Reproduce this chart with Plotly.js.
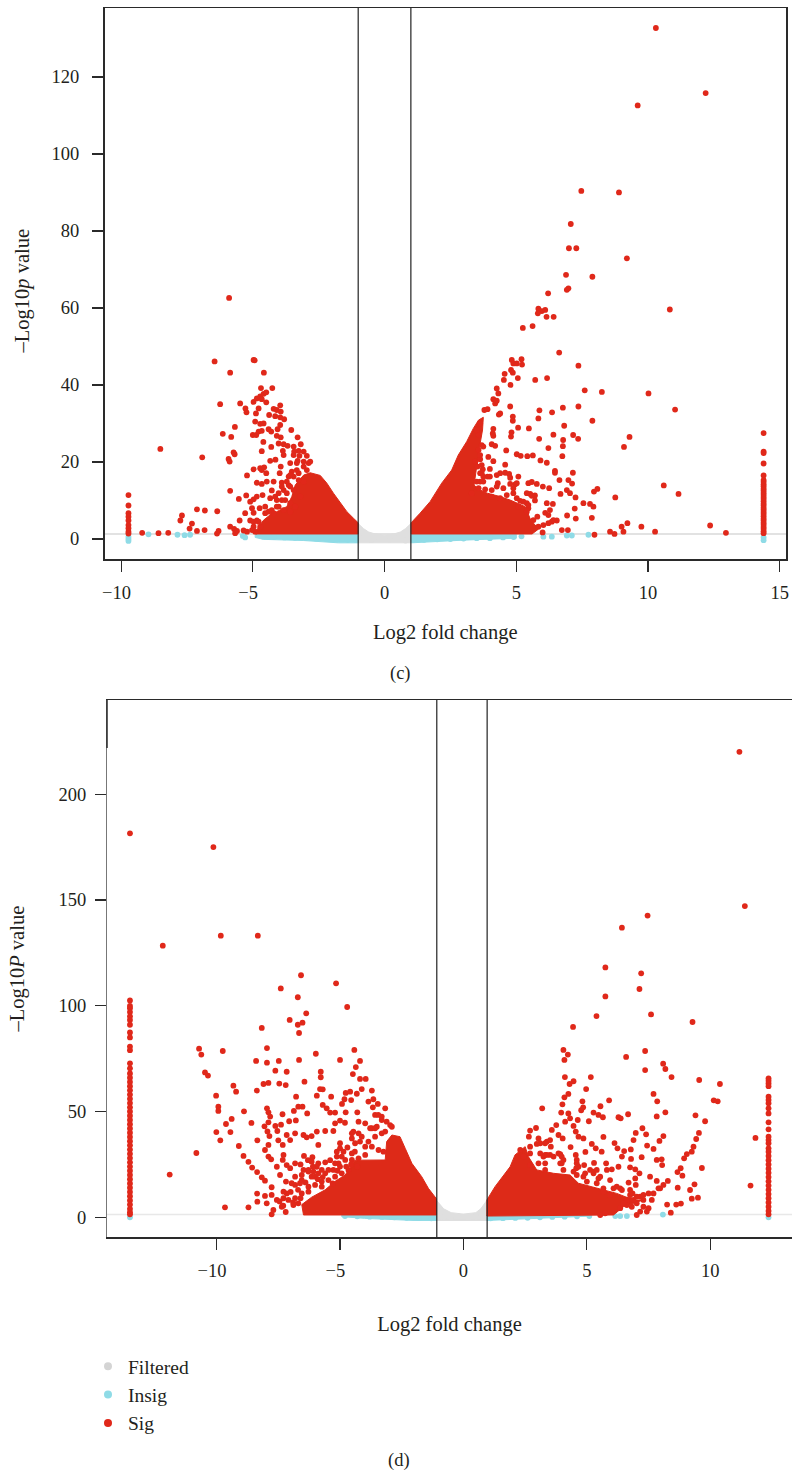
<!DOCTYPE html>
<html><head><meta charset="utf-8">
<script src="https://cdn.plot.ly/plotly-3.0.1.min.js"></script>
<style>html,body{margin:0;padding:0;background:#fff}#chart{width:792px;height:1471px}</style>
</head><body><div id="chart"></div>
<script>
// ---------- Panel (c): values [log2FC, -log10 p] ----------
const cSigLeft=[[-9.2,1.6],[-8.58,1.5],[-8.21,1.6],[-8.51,23.4],[-7.75,4.8],[-7.69,6.1],[-7.4,2.7],[-7.31,4],[-7.12,2.1],[-7.12,7.7],[-6.92,21.2],[-6.83,2.3],[-6.82,7.4],[-6.45,46.1],[-6.36,1.4],[-6.35,7.2],[-6.3,2.1],[-6.24,35],[-6.14,27.3],[-5.92,20.8],[-5.9,62.6],[-5.88,20.1],[-5.86,43.2],[-5.86,12.5],[-5.86,3.2],[-5.82,26.5],[-5.73,22.5],[-5.71,2.6],[-5.69,22],[-5.68,29.1],[-5.67,1.5],[-5.6,2.1],[-5.53,10.4],[-5.5,4.8],[-5.48,35.2],[-5.35,2.2],[-5.29,6.7],[-5.28,33.9],[-5.25,11.3],[-5.24,32.9],[-5.22,16.5],[-5.22,1.9],[-5.1,9.7],[-5.1,4.8],[-5.03,8],[-5,27],[-4.97,46.5],[-4.97,35.6],[-4.97,18.1],[-4.97,10.3],[-4.97,6.8],[-4.97,3.2],[-4.93,46.4],[-4.91,30.5],[-4.91,1.9],[-4.88,32.6],[-4.87,27],[-4.85,36.5],[-4.85,14.6],[-4.85,11],[-4.78,33.9],[-4.78,27.9],[-4.78,4.5],[-4.74,8],[-4.72,37],[-4.72,29.9],[-4.72,18.4],[-4.69,39.2],[-4.66,36.3],[-4.66,28.1],[-4.66,22.8],[-4.66,17.9],[-4.66,14.3],[-4.63,11.4],[-4.6,25.2],[-4.59,37.7],[-4.59,30],[-4.58,43.2],[-4.57,18.6],[-4.53,6.7],[-4.49,38.1],[-4.49,35.5],[-4.49,17.1],[-4.47,14.9],[-4.4,28.5],[-4.38,32.2],[-4.34,20.3],[-4.3,27.9],[-4.3,23.9],[-4.28,12.6],[-4.28,7.5],[-4.26,39.2],[-4.21,33.8],[-4.21,14.9],[-4.15,31.9],[-4.14,20.6],[-4.09,33.5],[-4.09,26.8],[-4.09,10.1],[-4.02,24.8],[-4.02,11.9],[-4.02,8.4],[-3.98,17.1],[-3.96,34.7],[-3.96,31.6],[-3.96,29.6],[-3.94,33.1],[-3.94,26.4],[-3.94,18.8],[-3.9,14.6],[-3.86,22.9],[-3.83,24.6],[-3.83,21.8],[-3.83,12.7],[-3.81,31.1],[-4.06,28.5],[-3.68,24.2],[-3.64,14],[-3.64,16.2],[-3.54,28.3],[-3.52,17.5],[-3.45,24],[-3.43,22.7],[-3.33,17.9],[-3.3,26.4],[-3.3,20.3],[-3.26,22.9],[-3.23,21.6],[-3.18,24.6],[-3.07,22.7],[-3.07,18.8],[-2.95,21.6],[-2.95,17.9],[-2.82,20.1]];
const cSigLeftDense=[[-3.58,13.6],[-3.71,11.9],[-3.77,10.1],[-3.58,9.3],[-3.45,12.7],[-3.26,15.3],[-3.07,14.9],[-3.45,16.2],[-3.9,10.1],[-4.09,8.4],[-4.21,6.7],[-4.4,7.1],[-4.53,8.4],[-3.83,7.5],[-3.58,7.1],[-3.39,8.4],[-3.2,11],[-3.9,13.6],[-4.15,11],[-4.34,10.6],[-3.71,14.9],[-3.58,19.7],[-3.33,19.7],[-3.45,21.8],[-3.07,20.1],[-3.26,17.1],[-2.88,19.7],[-3.58,16.6],[-4.85,4.8],[-4.97,4.5],[-4.72,3.2],[-5.03,2.3]];
const cSigRight=[[3.63,20.7],[3.69,19.2],[3.73,18.1],[3.63,14.9],[3.79,33.5],[3.91,33.7],[3.91,16.2],[3.94,21.3],[4,18.2],[4.07,24.6],[4.11,27.4],[4.13,36.3],[4.13,28.6],[4.13,26.8],[4.13,20.2],[4.2,35.2],[4.2,24.2],[4.26,39.1],[4.26,35.9],[4.26,16.6],[4.3,14.5],[4.32,37.8],[4.34,32.3],[4.39,32.6],[4.39,17.1],[4.53,41.3],[4.56,42.9],[4.58,19.3],[4.58,17.2],[4.62,23],[4.73,16.9],[4.77,34.4],[4.77,15.9],[4.78,40],[4.8,43.9],[4.8,26.6],[4.82,27.7],[4.83,46.5],[4.87,43.2],[4.87,31.8],[4.87,30.7],[4.89,45.6],[4.96,14.2],[5.02,45.6],[5.02,22],[5.02,10.6],[5.06,41.8],[5.07,28.9],[5.08,16.2],[5.15,9.9],[5.17,21.6],[5.2,46.7],[5.22,45.3],[5.4,9.3],[5.42,21.5],[5.46,14.5],[5.46,8],[5.48,28.7],[5.53,11.7],[5.59,14.8],[5.63,21.7],[5.71,11.3],[5.71,10],[5.72,41.3],[5.78,14.3],[5.8,5.8],[5.84,31.3],[5.87,26],[5.88,33.4],[5.92,20.4],[6,1.7],[6.01,13.6],[6.1,6.8],[6.16,19.8],[6.16,9.3],[6.17,41.8],[6.22,23.6],[6.22,6.2],[6.25,13.2],[6.28,7.5],[6.35,4.5],[6.36,32.9],[6.39,9.1],[6.41,27.1],[6.47,17.7],[6.47,17.2],[6.54,4.8],[6.63,48.4],[6.64,15.3],[6.68,11.7],[6.73,2.3],[6.75,21.5],[6.77,34.1],[6.77,24.1],[6.78,25.7],[6.82,29.4],[6.92,12.7],[6.93,6.1],[6.96,2.3],[6.98,15.3],[7.04,11.9],[7.12,14.4],[7.15,17.2],[7.16,27],[7.22,7.9],[7.25,10.8],[7.26,5.3],[7.35,26],[7.36,45],[7.36,34.4],[7.55,9.3],[7.6,38.6],[7.8,9.1],[7.87,5.5],[7.89,30.7],[7.93,8.4],[7.95,12.3],[7.97,1.1],[8.08,13],[8.25,38.2],[8.56,1.9],[8.73,1.3],[8.76,10.8],[9,3.2],[9.07,1.9],[9.09,23.9],[9.22,4.1],[9.3,26.5],[9.75,3.2],[10.02,37.8],[10.27,1.9],[10.6,13.9],[11.03,33.6],[11.16,11.7],[12.36,3.5],[12.96,1.6]];
const cSigRightDense=[[3.31,11.9],[3.57,13.2],[3.82,12.9],[4.07,12.7],[4.26,13.6],[4.51,13.2],[4.77,14.3],[5.02,14.5],[4.64,11.4],[4.89,11.9],[4.07,11],[4.39,10.6],[5.08,8.4],[5.4,7.1],[5.65,4.9],[6.03,3.6],[5.84,3.2],[6.22,4.1],[6.41,4.9],[3.75,16.2],[4,16.2],[3.63,17.1],[3.75,14.9],[3.5,14.9],[4.89,13.2],[5.4,11.9],[5.59,11.2],[5.27,9.7],[5.46,8.8],[3.63,30],[3.5,28.3],[3.57,27],[3.69,24.4],[3.57,23.1],[3.63,21.8],[3.44,20.1],[3.75,24],[3.53,18.8],[3.69,17.1]];
const cSigTop=[[10.3,132.7],[12.19,115.8],[9.61,112.6],[7.47,90.4],[8.9,90],[7.07,81.8],[7,75.5],[7.28,75.5],[9.2,72.9],[6.89,68.6],[7.89,68.1],[6.98,65.1],[6.92,64.7],[6.21,63.8],[5.84,59.8],[6.1,59.5],[5.97,59.2],[5.82,58.6],[6.15,57.7],[6.42,57.7],[10.83,59.6],[5.62,55.3],[5.25,54.8]];
const cColumnLeftX=-9.72;
const cColumnLeftY=[11.4,8.7,6.7,5.8,4.8,3.6,2.8,1.9,1.4];
const cColumnRightX=14.39;
const cColumnRightY=[27.5,22.7,22.3,19.6,16.5,15.3,14.8,14.2,13.7,13.1,12.6,12,11.5,10.9,10.4,9.8,9.2,8.7,8.1,7.6,7,6.5,5.9,5.3,4.8,4.2,3.7,3.1,2.6,2,1.5];
const cSigMassLeft=[[-4.9,1.3],[-4.78,3.2],[-4.59,4.9],[-4.3,6.5],[-4.09,7.1],[-3.71,8.4],[-3.52,11],[-3.39,14],[-3.07,16.6],[-2.82,17.2],[-2.44,16.5],[-2.19,14.5],[-1.94,11.9],[-1.68,9.3],[-1.43,7.1],[-1.18,5.4],[-1,4.2],[-1,1.3]];
const cSigMassRight=[[1.01,1.3],[1.01,4.2],[1.35,6.7],[1.73,9.7],[2.17,14.5],[2.55,17.9],[2.8,21.8],[3.12,25.3],[3.37,28.7],[3.57,30.9],[3.75,31.6],[3.72,28.3],[3.63,24.8],[3.57,21],[3.48,17.9],[3.4,14],[3.57,12.9],[3.9,11.9],[4.39,11],[4.77,10.1],[5.34,8.4],[5.55,4.9],[5.85,2.6],[5.6,1.3]];
const cInsigBandLeft=[[-4.91,1.3],[-1,1.3],[-1,-1],[-1.75,-1],[-3.07,-0.4],[-4.59,-0.1],[-4.91,0.4]];
const cInsigBandRight=[[1.01,1.3],[5,1.3],[5,0.2],[3,-0.3],[1.01,-1]];
const cInsigDots=[[-8.96,1.2],[-7.86,1.1],[-7.59,1],[-7.38,1.1],[-5.38,0.8],[-5.29,0.4],[-9.72,0.6],[-9.72,0],[-9.72,-0.5],[6.03,0.6],[6.35,0.6],[6.92,0.9],[7.11,0.9],[7.74,1.1],[14.39,0.4],[14.39,-0.3],[-4.6,0.6],[-4.2,0.5],[-3.8,0.4],[-3.4,0.3],[-3,0.2],[-2.6,0.1],[-2.2,0],[-1.8,-0.1],[-1.4,-0.2],[-1.1,-0.2],[1.1,-0.2],[1.5,-0.2],[2,-0.1],[2.5,0],[3,0.1],[3.5,0.2],[4,0.2],[4.5,0.4],[4.9,0.5],[5.2,0.7]];
const cFilteredBand=[[-1,-1],[-1,4],[-0.8,2.7],[-0.6,1.8],[-0.3,1.2],[0,1],[0.3,1.2],[0.6,1.8],[0.8,2.7],[1,4],[1,-1]];
const cFilteredDots=[[-0.8,0.2],[-0.5,-0.3],[-0.2,0.4],[0.2,-0.2],[0.5,0.3],[0.8,-0.4]];
const cXTicks=[-10,-5,0,5,10,15], cXLabels=['−10\u2002','−5\u2002','0','5','10','15'];
const cYTicks=[0,20,40,60,80,100,120];
const cThresholds=[-1,1];

// ---------- Panel (d) ----------
const dSigLeft=[[-12.18,128.4],[-11.9,20.2],[-10.82,30.4],[-10.71,79.7],[-10.62,76.9],[-10.47,68.5],[-10.35,67],[-10.13,175],[-10.02,57.5],[-10.01,40.3],[-9.93,52.3],[-9.93,50.3],[-9.85,36.4],[-9.83,133.1],[-9.75,78.6],[-9.66,4.7],[-9.62,44.1],[-9.44,40.3],[-9.39,46.5],[-9.32,62.2],[-9.21,59.4],[-9.1,33.7],[-8.91,29],[-8.89,50.1],[-8.71,26.2],[-8.71,4.7],[-8.59,44.6],[-8.56,23.5],[-8.4,73.9],[-8.37,59.9],[-8.36,21.4],[-8.36,11.2],[-8.35,36.4],[-8.35,7.4],[-8.33,133.1],[-8.17,89.5],[-8.17,18.9],[-8.1,63],[-8.06,43],[-8.04,31.8],[-8.04,17.3],[-8.04,10.1],[-7.97,6.6],[-7.96,80],[-7.96,73.1],[-7.96,51.5],[-7.94,40.6],[-7.9,63.5],[-7.9,49.6],[-7.9,44.9],[-7.9,34.2],[-7.9,28.7],[-7.86,38.4],[-7.83,47.6],[-7.79,27.4],[-7.77,14.2],[-7.77,10.6],[-7.77,1.4],[-7.7,3.5],[-7.62,69.3],[-7.62,43.2],[-7.56,23.9],[-7.54,40.8],[-7.5,36.4],[-7.48,73.9],[-7.46,63.2],[-7.43,20],[-7.4,108.2],[-7.39,43.8],[-7.36,5],[-7.33,48.7],[-7.32,34.2],[-7.32,27.1],[-7.29,29.5],[-7.29,9],[-7.2,62.5],[-7.2,2.5],[-7.19,16.9],[-7.16,68.8],[-7.16,38.9],[-7.16,24.7],[-7.16,11.3],[-7.06,45.4],[-7.04,93.3],[-7.02,36.5],[-7.02,23.2],[-6.87,50.3],[-6.82,39.7],[-6.82,25.5],[-6.82,15.3],[-6.79,45.8],[-6.78,57],[-6.71,104],[-6.71,91],[-6.69,52.3],[-6.66,87.1],[-6.66,74.4],[-6.62,16.1],[-6.58,114.4],[-6.55,20],[-6.52,92],[-6.52,52.3],[-6.48,38.9],[-6.48,22.4],[-6.46,29],[-6.44,64.1],[-6.37,96.4],[-6.35,37.8],[-6.33,49.1],[-6.28,21.6],[-6.28,14.5],[-6.15,38.4],[-6.15,26.3],[-6.12,28.4],[-6.01,19.2],[-5.98,77.3],[-5.94,57.5],[-5.94,40.5],[-5.88,34.2],[-5.88,25.5],[-5.81,60.6],[-5.78,68.8],[-5.78,66.2],[-5.74,16.9],[-5.7,60.5],[-5.7,53.1],[-5.6,40.8],[-5.6,20.8],[-5.54,51.5],[-5.4,49.5],[-5.36,57],[-5.27,40.8],[-5.27,22.4],[-5.2,49.5],[-5.2,44.4],[-5.16,110.6],[-5.13,31],[-5.06,25.5],[-5,74.4],[-5,45.7],[-5,32.6],[-4.92,53.6],[-4.86,31],[-4.82,55.8],[-4.8,44.7],[-4.77,58.8],[-4.77,49.6],[-4.71,99.4],[-4.59,59.4],[-4.55,55.4],[-4.52,39.7],[-4.52,30.2],[-4.48,67.7],[-4.46,40.5],[-4.42,79.1],[-4.36,71],[-4.32,58.4],[-4.3,49.6],[-4.25,45.2],[-4.19,73.9],[-4.19,65.4],[-4.19,35.8],[-4.12,60.6],[-3.98,44.4],[-3.96,65.4],[-3.85,54.7],[-3.71,59.9],[-3.71,42.1],[-3.67,52],[-3.65,55.8],[-3.58,48.4],[-3.51,42.8],[-3.47,53.6],[-3.31,46],[-3.17,51.5],[-2.97,43.6]];
const dSigLeftDense=[[-3.17,40.5],[-3.31,47.6],[-3.11,45.2],[-2.9,42.8],[-3.45,48.4],[-3.78,42.1],[-3.58,42.1],[-3.31,39.7],[-3.58,38.1],[-3.85,35.8],[-3.98,33.4],[-3.71,33.4],[-3.44,31.8],[-3.24,31],[-4.25,39.7],[-4.12,38.1],[-4.39,35],[-4.52,37.3],[-3.98,29.5],[-4.25,27.9],[-4.52,27.1],[-4.79,27.1],[-5,35],[-4.93,28.7],[-5.2,25.5],[-5.47,22.4],[-5.88,20.8],[-6.15,19.2],[-6.55,17.6],[-6.82,19.2],[-6.96,16.1],[-6.28,22.4],[-4.66,22.4],[-4.93,20.8],[-5.2,19.2],[-5.47,17.6],[-5.74,14.5],[-6.01,15.3],[-6.28,12.1],[-6.55,11.3],[-6.82,9],[-7.09,8.2],[-7.29,12.1],[-7.56,8.2],[-6.69,6.6],[-6.89,5.8],[-5.13,28.7],[-5.74,22.4],[-5.94,23.9],[-6.08,21.6],[-6.6,25],[-6.3,27],[-6.1,24],[-5.9,18],[-5.6,26],[-5.4,27],[-5.1,22],[-4.7,33],[-4.4,31],[-4.3,24],[-6.7,13],[-7,12],[-6.4,16.5],[-5.7,19],[-5.3,16],[-5,24],[-4.55,25],[-4.75,24],[-6.9,7],[-6.6,9],[-7.3,5.5],[-7.45,7.5]];
const dSigRight=[[2.65,38.1],[2.7,41],[2.94,42.2],[2.97,34.7],[3.04,37.3],[3.19,51.5],[3.31,29.5],[3.38,35.8],[3.54,33.4],[3.58,41.3],[3.76,43.6],[3.85,38.9],[3.92,29.9],[3.96,49.5],[4.01,53.4],[4.02,37.3],[4.05,79.1],[4.09,74.4],[4.09,56.7],[4.11,66.3],[4.12,45.2],[4.23,76.9],[4.25,58.3],[4.25,49.1],[4.3,63],[4.32,46.8],[4.34,33.2],[4.44,90],[4.46,64.3],[4.46,43.2],[4.55,40.5],[4.55,29.5],[4.57,23.2],[4.59,25.5],[4.63,46],[4.66,38.1],[4.77,50.6],[4.82,54.8],[4.85,52],[4.86,37.3],[4.89,24.7],[4.94,30.9],[4.97,60.6],[5.08,45.4],[5.16,66.3],[5.2,34.7],[5.27,49.5],[5.27,21.6],[5.29,25.7],[5.36,32.6],[5.39,95.1],[5.47,48.4],[5.55,52.5],[5.6,31],[5.65,47.3],[5.67,38],[5.75,118.1],[5.75,104.4],[5.78,25.5],[5.81,22.4],[5.9,55.3],[5.94,17.6],[6.01,22.7],[6.12,35.1],[6.24,32.6],[6.28,47.3],[6.28,23.9],[6.37,46.8],[6.42,136.9],[6.42,28.7],[6.51,31.3],[6.59,75.8],[6.62,5.8],[6.67,48.7],[6.69,16.4],[6.75,23.6],[6.75,12.9],[6.78,32.1],[6.79,27.6],[6.85,11.3],[6.89,36.5],[6.96,22.7],[6.96,18.4],[6.98,39.9],[6.98,15.3],[7.02,6.6],[7.02,1.1],[7.13,107.9],[7.13,20.8],[7.2,115.3],[7.22,28.4],[7.25,42.1],[7.29,8.2],[7.36,78.6],[7.36,69.6],[7.4,39.2],[7.43,2.7],[7.44,33.9],[7.46,142.6],[7.56,19.2],[7.6,95.9],[7.63,8.2],[7.7,58.3],[7.7,32.3],[7.83,47.7],[7.83,27.1],[7.83,17.2],[7.85,54.8],[7.94,36.1],[7.97,13.7],[8.03,27.4],[8.05,24.7],[8.09,72.6],[8.1,38.4],[8.1,15.3],[8.18,70.1],[8.18,49.6],[8.25,6],[8.28,17.2],[8.4,2.2],[8.43,66.3],[8.62,6],[8.67,21.4],[8.68,14],[8.8,23.2],[8.81,6.5],[8.87,19.7],[8.94,27.9],[9.05,29.9],[9.18,12.9],[9.25,31],[9.25,8.8],[9.28,92.3],[9.32,33.4],[9.36,15.6],[9.4,48.2],[9.43,37],[9.5,9.3],[9.54,39.9],[9.55,64.9],[9.66,23.3],[9.79,45.4],[10.14,55.3],[10.3,54.8],[10.39,63],[11.18,220],[11.4,147.1],[11.63,15],[11.83,37.5]];
const dSigRightDense=[[2.7,33.4],[2.3,31.8],[2.43,28.7],[2.7,30.2],[3.24,28.7],[3.51,29.5],[3.98,28.7],[3.92,25.5],[3.31,25.5],[3.04,25.5],[2.7,24.7],[3.31,22.4],[4.05,22.4],[4.46,21.6],[4.59,20],[4.93,20.8],[5.27,20.8],[5.47,18.4],[5.4,16.1],[5,16.9],[5.67,13.7],[6.08,13.7],[6.35,13.7],[6.75,8.2],[7.5,11.3],[7.7,11.3],[7.9,13.7],[7.29,5],[7.5,4.3],[7.16,9.8],[7.16,2.7],[6.62,8.2],[6.35,4.3],[5.74,1.9],[5.54,1.1],[3.11,35],[3.31,35],[3.51,36.5],[3.11,30.2],[3.38,29.5],[3.65,28.7],[3.85,30.2],[3.98,25.5],[4.05,27.1],[4.59,27.1],[4.66,23.9],[5.13,22.4],[5.4,22.4],[5.54,19.2],[4.86,19.2],[5.67,12.1],[5.94,10.6],[6.21,14.5],[6.42,12.9],[6.75,10.6],[6.89,8.2],[7.02,9.8],[7.29,10.6],[6.82,5],[6.48,6.6]];
const dColumnLeftX=-13.51;
const dColumnLeftY=[181.5,102.5,99.9,98.8,97,95,93.3,91,87.4,85,80.7,79,72.8,70.4,68,66,64,62,60,58,56,54,52,50,48,46,44,42,40,38,36,34,32,30,28,26,24,22,20,18,16,14,12,10,8,6,4,2.4,1.4];
const dColumnRightX=12.36;
const dColumnRightY=[65.7,64.6,63.3,62,57,55.5,53.9,51.5,49.1,44.9,41.6,38.1,36.5,35,32.6,31,29,27,25,23,21,19,17,15,13,11,9,7,5,3,1.4];
const dSigMassLeft=[[-1.09,8.7],[-1.42,13.7],[-1.69,19.2],[-2.09,25.5],[-2.36,32.6],[-2.57,38.1],[-2.9,38.9],[-3.11,35.8],[-3.17,27.1],[-3.71,27.1],[-4.4,27],[-4.79,20],[-5.2,17],[-5.6,13],[-6.15,9.5],[-6.55,6],[-6.48,1.1],[-1.09,1.1]];
const dSigMassRight=[[0.95,0.6],[0.95,8.2],[1.28,14.5],[1.69,20.8],[1.89,23.9],[2.09,29.5],[2.5,33.4],[2.63,28.7],[2.97,22.4],[3.65,20.8],[4.32,20],[4.66,16.1],[5.4,13.7],[6.21,11.3],[6.89,8.2],[7.29,8.2],[6.48,5],[6.08,1.1]];
const dInsigBandLeft=[[-4.93,1.1],[-1.09,1.1],[-1.09,-1.5],[-2,-1.5],[-4,-0.5],[-4.93,0.3]];
const dInsigBandRight=[[0.95,1.1],[5,1.1],[5,0.5],[3,-0.6],[0.95,-1.5]];
const dInsigDots=[[6.15,0.6],[6.35,0.6],[6.62,0.6],[8.08,1.3],[-13.51,0],[12.36,0],[-4.8,0.6],[-4.3,0.5],[-3.8,0.3],[-3.3,0.2],[-2.8,0],[-2.3,-0.2],[-1.8,-0.4],[-1.3,-0.5],[1.1,-0.5],[1.6,-0.4],[2.1,-0.3],[2.6,-0.2],[3.1,0],[3.6,0.2],[4.1,0.3],[4.6,0.5],[5.1,0.6]];
const dFilteredBand=[[-1.09,-1.5],[-1.09,8],[-0.8,4],[-0.5,2.2],[0,1.5],[0.5,2.2],[0.7,4],[0.95,8],[0.95,-1.5]];
const dFilteredDots=[[-0.8,0.2],[-0.5,-0.3],[-0.2,0.4],[0.2,-0.2],[0.5,0.3],[0.8,-0.4]];
const dXTicks=[-10,-5,0,5,10], dXLabels=['−10\u2002','−5\u2002','0','5','10'];
const dYTicks=[0,50,100,150,200];
const dThresholds=[-1.08,0.96];
const dLeftAxisDarkFrom=221.8;
const sigCut=1.3;

const legendNames=['Filtered','Insig','Sig'];

const RED='#e0281a', MASS='#dd2a18', CYAN='#8fdbe6', GREY='#dfdfdf';
const FONT={family:'"Liberation Serif",serif',size:18.5,color:'#231f20'};
const TITLE={family:'"Liberation Serif",serif',size:20.5,color:'#231f20'};
const xs=a=>a.map(p=>p[0]), ys=a=>a.map(p=>p[1]);
function fillTrace(pts,color,xa,ya){return {type:'scatter',mode:'lines',x:xs(pts).concat(pts[0][0]),y:ys(pts).concat(pts[0][1]),fill:'toself',fillcolor:color,line:{color:color,width:1},xaxis:xa,yaxis:ya,showlegend:false,hoverinfo:'skip'};}
function dotTrace(pts,color,name,xa,ya){return {type:'scatter',mode:'markers',name:name,x:xs(pts),y:ys(pts),marker:{color:color,size:5.8,line:{width:0}},xaxis:xa,yaxis:ya,showlegend:false};}
function keyTrace(name,color){return {type:'scatter',mode:'markers',name:name,x:[null],y:[null],marker:{color:color,size:8,line:{width:0}},xaxis:'x2',yaxis:'y2',showlegend:true};}
const col=(x,yy)=>yy.map(y=>[x,y]);

const data=[
 fillTrace(cFilteredBand,GREY,'x','y'),dotTrace(cFilteredDots,GREY,'Filtered','x','y'),
 fillTrace(cInsigBandLeft,CYAN,'x','y'),fillTrace(cInsigBandRight,CYAN,'x','y'),dotTrace(cInsigDots,CYAN,'Insig','x','y'),
 fillTrace(cSigMassLeft,MASS,'x','y'),fillTrace(cSigMassRight,MASS,'x','y'),
 dotTrace(cSigLeft.concat(cSigLeftDense,cSigRight,cSigRightDense,cSigTop,col(cColumnLeftX,cColumnLeftY),col(cColumnRightX,cColumnRightY)),RED,'Sig','x','y'),
 fillTrace(dFilteredBand,GREY,'x2','y2'),dotTrace(dFilteredDots,GREY,'Filtered','x2','y2'),
 fillTrace(dInsigBandLeft,CYAN,'x2','y2'),fillTrace(dInsigBandRight,CYAN,'x2','y2'),dotTrace(dInsigDots,CYAN,'Insig','x2','y2'),
 fillTrace(dSigMassLeft,MASS,'x2','y2'),fillTrace(dSigMassRight,MASS,'x2','y2'),
 dotTrace(dSigLeft.concat(dSigLeftDense,dSigRight,dSigRightDense,col(dColumnLeftX,dColumnLeftY),col(dColumnRightX,dColumnRightY)),RED,'Sig','x2','y2'),
 keyTrace(legendNames[0],'#d4d4d4'),keyTrace(legendNames[1],CYAN),keyTrace(legendNames[2],RED)
];

const W=792,H=1471;
const axisBase={showgrid:false,zeroline:false,showline:true,mirror:true,linecolor:'#2a2a2a',linewidth:1.5,ticks:'outside',ticklen:11,tickwidth:1.2,tickcolor:'#2a2a2a',tickfont:FONT,tickmode:'array'};
const vline=(x,xr,yr)=>({type:'line',xref:xr,yref:yr+' domain',x0:x,x1:x,y0:0,y1:1,line:{color:'#222',width:1.2},layer:'above'});
const hline=(xr,yr,c)=>({type:'line',xref:xr+' domain',yref:yr,x0:0,x1:1,y0:sigCut,y1:sigCut,line:{color:c,width:1.5},layer:'below'});

const layout={
 width:W,height:H,margin:{l:0,r:0,t:0,b:0},paper_bgcolor:'#fff',plot_bgcolor:'#fff',font:FONT,
 xaxis:Object.assign({},axisBase,{domain:[104.5/W,786/W],range:[-10.63,15.24],anchor:'y',tickvals:cXTicks,ticktext:cXLabels,ticklabelstandoff:5,title:{text:'\u2004Log2 fold change',font:TITLE,standoff:23}}),
 yaxis:Object.assign({},axisBase,{domain:[1-559/H,1-8/H],range:[-5.2,137.9],anchor:'x',tickvals:cYTicks,ticktext:cYTicks.map(String),ticklabelstandoff:9}),
 xaxis2:Object.assign({},axisBase,{domain:[107/W,1],range:[-14.44,13.31],anchor:'y2',tickvals:dXTicks,ticktext:dXLabels,ticklabelstandoff:5,title:{text:'Log2 fold change',font:TITLE,standoff:36}}),
 yaxis2:Object.assign({},axisBase,{domain:[1-1237.3/H,1-700/H],range:[-9.45,244.5],anchor:'x2',tickvals:dYTicks,ticktext:dYTicks.map(String),ticklabelstandoff:5,linecolor:'#777',linewidth:1,title:{text:'–Log10<i>P</i> value',font:TITLE,standoff:28}}),
 shapes:[vline(cThresholds[0],'x','y'),vline(cThresholds[1],'x','y'),hline('x','y','#d9d9d9'),
         vline(dThresholds[0],'x2','y2'),vline(dThresholds[1],'x2','y2'),hline('x2','y2','#e8e8e8'),
         {type:'line',xref:'x2 domain',yref:'y2',x0:0,x1:0,y0:dLeftAxisDarkFrom,y1:244.5,line:{color:'#2a2a2a',width:1.5},layer:'above'}],
 annotations:[
  {text:'–Log10<i>p</i> value',xref:'paper',yref:'paper',x:22/W,y:1-291.5/H,showarrow:false,font:TITLE,textangle:-90,xanchor:'center',yanchor:'middle'},
  {text:'(c)',xref:'paper',yref:'paper',x:400/W,y:1-673/H,showarrow:false,font:FONT,xanchor:'center',yanchor:'middle'},
  {text:'(d)',xref:'paper',yref:'paper',x:399/W,y:1-1460/H,showarrow:false,font:FONT,xanchor:'center',yanchor:'middle'}
 ],
 legend:{x:88/W,y:1-1347/H,xanchor:'left',yanchor:'top',bgcolor:'rgba(0,0,0,0)',font:{family:TITLE.family,size:19.5,color:TITLE.color},itemsizing:'trace',traceorder:'normal',borderwidth:0,tracegroupgap:0}
};
Plotly.newPlot('chart',data,layout,{displayModeBar:false,staticPlot:true});
</script></body></html>
